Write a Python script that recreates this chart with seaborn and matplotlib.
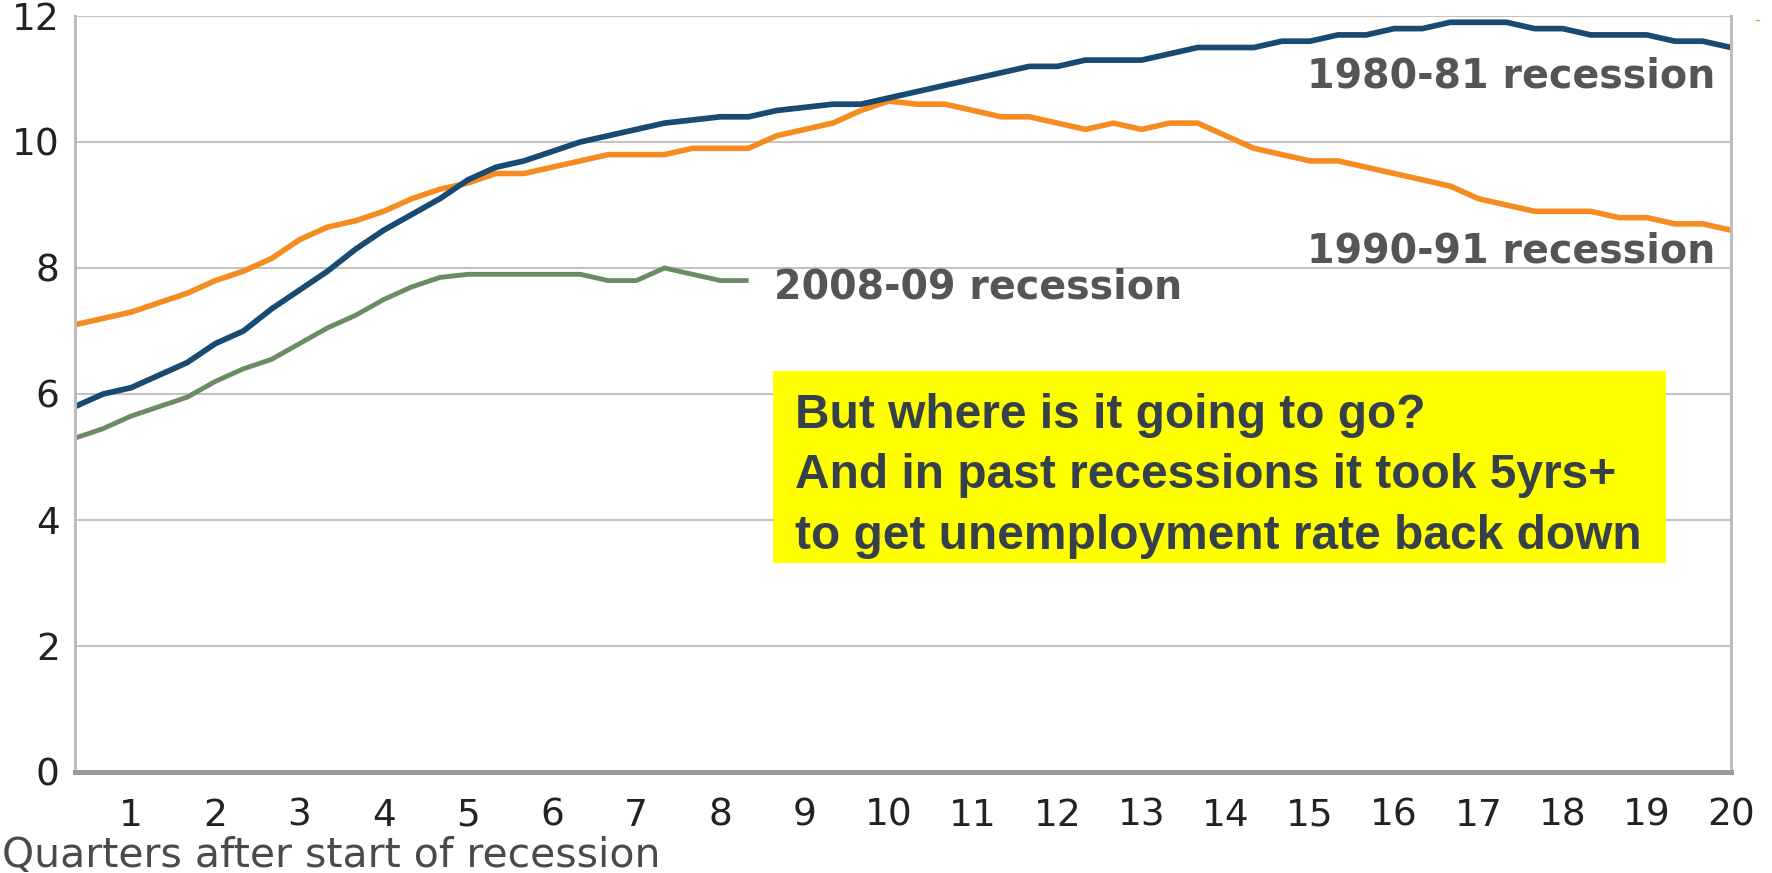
import numpy as np
import pandas as pd
import matplotlib
matplotlib.use("Agg")
import matplotlib.pyplot as plt
import seaborn as sns
from matplotlib.patches import Rectangle

# Unemployment rate (%) for each month after the start of the recession
rate_1980 = [5.8, 6.0, 6.1, 6.3, 6.5, 6.8, 7.0, 7.35, 7.65, 7.95,
             8.3, 8.6, 8.85, 9.1, 9.4, 9.6, 9.7, 9.85, 10.0, 10.1,
             10.2, 10.3, 10.35, 10.4, 10.4, 10.5, 10.55, 10.6, 10.6, 10.7,
             10.8, 10.9, 11.0, 11.1, 11.2, 11.2, 11.3, 11.3, 11.3, 11.4,
             11.5, 11.5, 11.5, 11.6, 11.6, 11.7, 11.7, 11.8, 11.8, 11.9,
             11.9, 11.9, 11.8, 11.8, 11.7, 11.7, 11.7, 11.6, 11.6, 11.5]
rate_1990 = [7.1, 7.2, 7.3, 7.45, 7.6, 7.8, 7.95, 8.15, 8.45, 8.65,
             8.75, 8.9, 9.1, 9.25, 9.35, 9.5, 9.5, 9.6, 9.7, 9.8,
             9.8, 9.8, 9.9, 9.9, 9.9, 10.1, 10.2, 10.3, 10.5, 10.65,
             10.6, 10.6, 10.5, 10.4, 10.4, 10.3, 10.2, 10.3, 10.2, 10.3,
             10.3, 10.1, 9.9, 9.8, 9.7, 9.7, 9.6, 9.5, 9.4, 9.3,
             9.1, 9.0, 8.9, 8.9, 8.9, 8.8, 8.8, 8.7, 8.7, 8.6]
rate_2008 = [5.3, 5.45, 5.65, 5.8, 5.95, 6.2, 6.4, 6.55, 6.8, 7.05,
             7.25, 7.5, 7.7, 7.85, 7.9, 7.9, 7.9, 7.9, 7.9, 7.8,
             7.8, 8.0, 7.9, 7.8, 7.8]

series_names = ["1980-81 recession", "1990-91 recession", "2008-09 recession"]
series_colors = ["#184a72", "#f68b1f", "#6a8b63"]
quarter_ticks = list(range(1, 21))
y_ticks = [0, 2, 4, 6, 8, 10, 12]
x_label = "Quarters after start of recession"
note_lines = ["But where is it going to go?",
              "And in past recessions it took 5yrs+",
              "to get unemployment rate back down"]

frames = []
for name, vals in zip(series_names, [rate_1980, rate_1990, rate_2008]):
    month = np.arange(1, len(vals) + 1)
    frames.append(pd.DataFrame({"quarter": month / 3.0, "rate": vals,
                                "recession": name}))
df = pd.concat(frames, ignore_index=True)

sns.set_style("white")
plt.rcParams["font.family"] = ["DejaVu Sans"]

W, H = 1772, 873
fig = plt.figure(figsize=(W / 100, H / 100), dpi=100)
ax = fig.add_axes([75 / W, 1 - 772 / H, 1656 / W, 756 / H])

palette = dict(zip(series_names, series_colors))
line_width = {"1980-81 recession": 4.1, "1990-91 recession": 4.0,
              "2008-09 recession": 3.5}
layer = {"2008-09 recession": 2.0, "1990-91 recession": 2.1,
         "1980-81 recession": 2.2}
for name in ["2008-09 recession", "1990-91 recession", "1980-81 recession"]:
    sns.lineplot(data=df[df["recession"] == name], x="quarter", y="rate",
                 color=palette[name], lw=line_width[name], ax=ax,
                 zorder=layer[name], solid_joinstyle="round",
                 solid_capstyle="butt", legend=False)

ax.set_xlim(1 / 3, 20)
ax.set_ylim(0, 12)
ax.set_xticks(quarter_ticks)
ax.set_yticks(y_ticks)
ax.set_xlabel("")
ax.set_ylabel("")
ax.tick_params(axis="x", direction="out", length=10.5, width=1.5,
               color="#bdbdbd", pad=8, labelsize=27, labelcolor="#222222")
ax.tick_params(axis="y", length=0, pad=11, labelsize=27,
               labelcolor="#222222")
ax.grid(axis="y", color="#c3c3c3", lw=1.5)
ax.grid(axis="x", visible=False)
ax.set_axisbelow(True)

ax.spines["top"].set_visible(False)
for side in ["left", "right"]:
    ax.spines[side].set_color("#bdbdbd")
    ax.spines[side].set_linewidth(2.2)
ax.spines["bottom"].set_color("#9a9a9a")
ax.spines["bottom"].set_linewidth(3.6)

fig.text(2 / W, 1 - 856 / H, x_label, ha="left", va="center",
         fontsize=29.5, color="#4a4a4a")

# Series labels
label_style = dict(fontsize=28.5, fontweight="bold", color="#555555",
                   va="baseline", zorder=5)
ax.text(19.81, 10.87, series_names[0], ha="right", **label_style)
ax.text(19.81, 8.08, series_names[1], ha="right", **label_style)
ax.text(8.63, 7.51, series_names[2], ha="left", **label_style)

# Highlighted note
ax.add_patch(Rectangle((0.4215, 0.2765), 0.5392, 0.2539,
                       transform=ax.transAxes, facecolor="#ffff00",
                       edgecolor="none", zorder=3))
for line, yb in zip(note_lines, [0.455, 0.375, 0.295]):
    ax.text(0.4348, yb, line, transform=ax.transAxes, ha="left",
            va="baseline", fontsize=34.5, fontweight="bold",
            family=["Liberation Sans", "DejaVu Sans"], color="#35404a",
            zorder=4)

fig.text(1757 / W, 1 - 20 / H, "-", ha="center", va="center",
         fontsize=12, color="#8dc63f")

fig.savefig("out.png", dpi=100)
